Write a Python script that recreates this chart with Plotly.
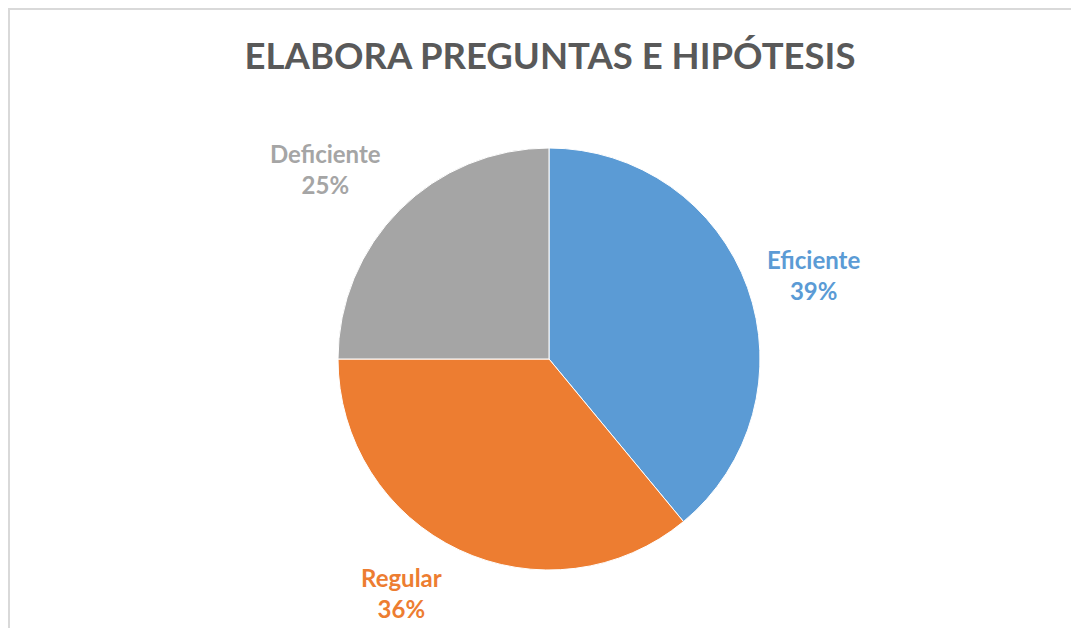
import math
import plotly.graph_objects as go

categories = ["Eficiente", "Regular", "Deficiente"]
values = [39, 36, 25]
colors = ["#5B9BD5", "#ED7D31", "#A5A5A5"]
title_text = "ELABORA PREGUNTAS E HIPÓTESIS"

OFF = 8  # page offset of the plot div
W, H = 1079 - OFF, 628 - OFF
cx, cy, R = 549 - OFF, 359 - OFF, 211
label_r = [278, 276, 293]
label_dang = [2.2, 7.0, -4.6]  # degrees, tweak from slice midpoint

fig = go.Figure()
fig.add_trace(go.Pie(
    labels=categories, values=values, sort=False, direction="clockwise", rotation=0,
    marker=dict(colors=colors, line=dict(color="white", width=1)),
    textinfo="none", hoverinfo="label+percent", showlegend=False,
    domain=dict(x=[(cx - R) / W, (cx + R) / W], y=[1 - (cy + R) / H, 1 - (cy - R) / H]),
))

total = sum(values)
cum = 0
for cat, v, col, lr, da in zip(categories, values, colors, label_r, label_dang):
    mid = (cum + v / 2) / total * 2 * math.pi + math.radians(da)
    cum += v
    px = cx + lr * math.sin(mid)
    py = cy - lr * math.cos(mid)
    pct = round(v / total * 100)
    fig.add_annotation(
        x=px / W, y=1 - py / H, xref="paper", yref="paper",
        text=f"<b>{cat}<br>{pct}%</b>", showarrow=False,
        font=dict(family="Lato", size=24, color=col),
        xanchor="center", yanchor="middle", align="center",
    )

# chart-area border (top and left edges visible in the frame)
fig.add_shape(type="line", xref="paper", yref="paper",
              x0=0, y0=1 - 1 / H, x1=1, y1=1 - 1 / H,
              line=dict(color="#D9D9D9", width=2), layer="below")
fig.add_shape(type="line", xref="paper", yref="paper",
              x0=1 / W, y0=0, x1=1 / W, y1=1 - 1 / H,
              line=dict(color="#D9D9D9", width=2), layer="below")

fig.update_layout(
    width=W, height=H,
    margin=dict(l=0, r=0, t=0, b=0),
    paper_bgcolor="white", plot_bgcolor="white",
    title=dict(text=f"<b>{title_text}</b>", x=(550 - OFF) / W, xanchor="center",
               y=1 - (56 - OFF) / H, yanchor="middle",
               font=dict(family="Lato", size=36.5, color="#595959")),
)

fig.write_html("out.html")
